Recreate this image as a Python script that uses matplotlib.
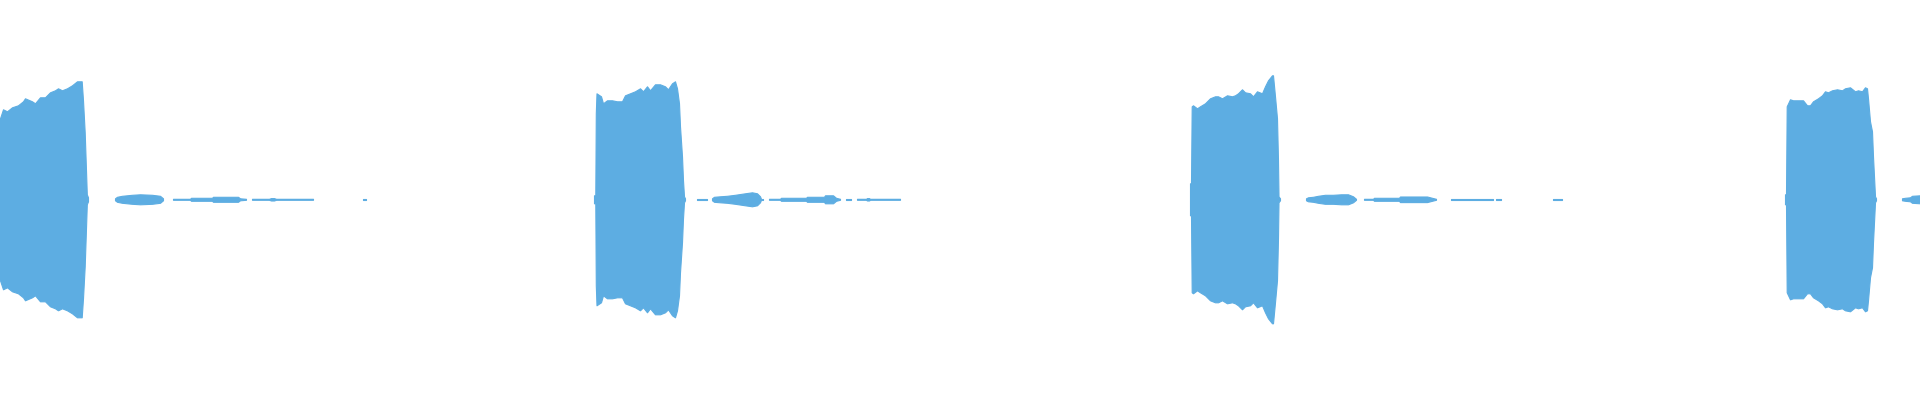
"""Waveform strip: four loud bursts, each followed by quiet tails."""

import matplotlib
matplotlib.use("Agg")
import matplotlib.pyplot as plt

# data (time in px-like units, envelope amplitude, symmetric about 0)

burst1_t = [-2, 0, 3, 7, 12, 18, 23, 25, 32, 35, 40, 45, 50, 55, 58, 62, 67, 72, 77, 81.7, 83, 84.7, 86, 86.8, 88]
burst1_amp = [80, 81, 90, 88, 92, 94, 98, 101, 98, 96, 102, 102, 107, 109, 111, 109, 111, 114, 118, 118, 99, 67, 29, 5, 2]

burst2_t = [594, 595.3, 595.8, 596.5, 601, 603, 607, 612, 617, 622, 625, 630, 635, 640, 643, 647, 650, 655, 660, 665, 668, 672, 675, 677, 679, 680, 682, 683, 684, 685]
burst2_amp = [4, 4, 86, 106, 103, 96, 99, 99, 98, 98, 104, 106, 108, 111, 108, 113, 109, 115, 115, 113, 110, 116, 118, 111, 96, 73, 43, 19, 3, 1]

burst3_t = [1190, 1191, 1191.7, 1193, 1197, 1200, 1205, 1210, 1215, 1218, 1222, 1227, 1232, 1235, 1238, 1242, 1245, 1250, 1253, 1257, 1262, 1265, 1268, 1272, 1273, 1275, 1277, 1278, 1278.5, 1280]
burst3_amp = [16, 16, 93, 94, 91, 93, 96, 101, 103, 103, 101, 104, 103, 104, 106, 110, 107, 106, 103, 108, 106, 113, 119, 124, 124, 103, 81, 39, 3, 1]

burst4_t = [1785, 1786, 1786.7, 1790, 1793, 1798, 1803, 1807, 1810, 1813, 1818, 1822, 1825, 1828, 1832, 1837, 1842, 1845, 1850, 1855, 1858, 1862, 1865, 1867, 1868, 1870, 1872, 1873, 1875, 1876]
burst4_amp = [5, 5, 93, 100, 99, 99, 99, 94, 94, 98, 101, 104, 108, 107, 109, 110, 109, 111, 112, 108, 109, 108, 112, 111, 101, 78, 68, 43, 3, 1]

# quiet parts, one (t, amp) pair per piece
tail1 = [
    ([115, 117, 122, 132, 140, 152, 160, 163], [1, 2.5, 3.5, 4.5, 5, 4.5, 3.5, 1]),
    ([173, 190, 191, 212, 213, 238, 240, 246], [0.5, 0.5, 1.5, 1.5, 2.5, 2.5, 1, 0.5]),
    ([252, 269, 271, 274, 276, 313], [0.5, 0.5, 1.2, 1.2, 0.5, 0.5]),
    ([363, 366], [0.5, 0.5]),
]
tail2 = [
    ([697, 707], [0.5, 0.5]),
    ([712, 714, 720, 727, 735, 745, 752, 757, 760, 761], [1, 2.5, 3, 3.5, 4.5, 6, 7, 6, 3, 0.5]),
    ([762, 763], [0.5, 0.5]),
    ([769, 780, 781, 806, 807, 824, 825, 833, 836, 840], [0.5, 0.5, 1.5, 1.5, 2.5, 2.5, 4, 4, 1.5, 0.5]),
    ([846, 851], [0.5, 0.5]),
    ([857, 866, 867, 869, 870, 900], [0.5, 0.5, 1.2, 1.2, 0.5, 0.5]),
]
tail3 = [
    ([1306, 1308, 1313, 1318, 1325, 1333, 1341, 1348, 1353, 1356], [1, 2, 2.5, 3.5, 4.5, 4.5, 5, 5, 3, 0.5]),
    ([1364, 1373, 1374, 1399, 1400, 1427, 1432, 1436], [0.5, 0.5, 1.5, 1.5, 2.8, 2.8, 1.5, 0.5]),
    ([1451, 1493], [0.5, 0.5]),
    ([1496, 1501], [0.5, 0.5]),
    ([1553, 1562], [0.5, 0.5]),
]
tail4 = [
    ([1902, 1905, 1910, 1912, 1920], [1, 1.5, 2, 3.5, 4]),
]

COLOR = "#5dade2"

# plotting

fig = plt.figure(figsize=(19.2, 4), dpi=100)
ax = fig.add_axes([0, 0, 1, 1])

def draw(t, amp):
    lo = [-a for a in amp]
    ax.fill_between(t, lo, amp, facecolor=COLOR, edgecolor=COLOR, linewidth=0.8)

for t, amp in [(burst1_t, burst1_amp), (burst2_t, burst2_amp),
               (burst3_t, burst3_amp), (burst4_t, burst4_amp)]:
    draw(t, amp)

for tail in [tail1, tail2, tail3, tail4]:
    for t, amp in tail:
        draw(t, amp)

ax.set_xlim(0, 1920)
ax.set_ylim(-200.7, 199.3)
ax.axis("off")

fig.savefig("out.png", dpi=100, facecolor="white")
